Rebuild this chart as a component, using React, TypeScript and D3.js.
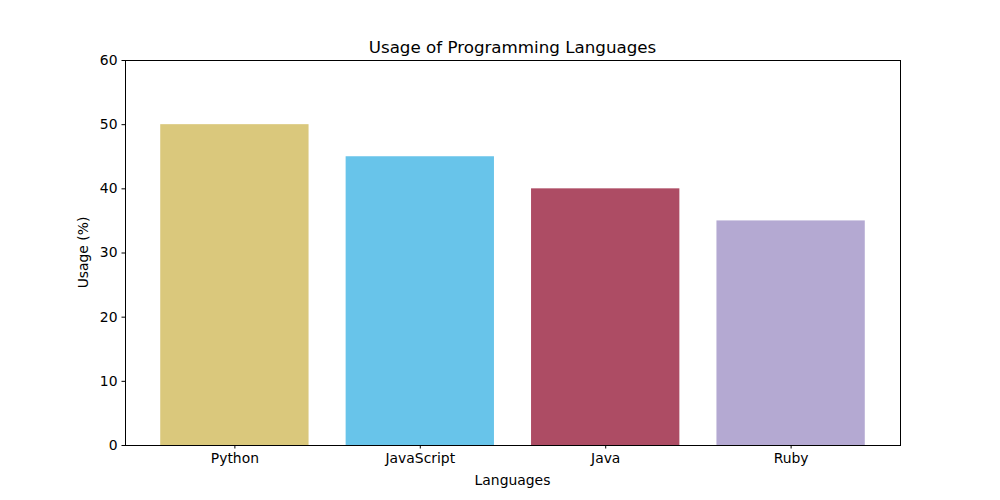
import { useEffect, useRef } from "react";
import * as d3 from "d3";

const languages = ["Python", "JavaScript", "Java", "Ruby"];
const usage = [50, 45, 40, 35];
const barColors = ["#dac87c", "#68c4ea", "#ad4c64", "#b4a9d2"];
const yTicks = [0, 10, 20, 30, 40, 50, 60];

function App() {
  const svgRef = useRef<SVGSVGElement>(null);
  const width = 1000;
  const height = 500;

  useEffect(() => {
    const svg = d3.select(svgRef.current);
    svg.selectAll("*").remove();

    const margin = { top: 60, right: 100, bottom: 55, left: 125 };
    const x0 = margin.left;
    const x1 = width - margin.right;
    const y0 = height - margin.bottom;
    const y1 = margin.top;

    // matplotlib-style x limits with 5% margin around the bars
    const barW = 0.8;
    const lo = -barW / 2;
    const hi = languages.length - 1 + barW / 2;
    const pad = (hi - lo) * 0.05;
    const x = d3.scaleLinear().domain([lo - pad, hi + pad]).range([x0, x1]);
    const y = d3.scaleLinear().domain([0, 60]).range([y0, y1]);

    const font = "DejaVu Sans, sans-serif";

    svg
      .append("g")
      .selectAll("rect")
      .data(usage)
      .join("rect")
      .attr("x", (_, i) => x(i - barW / 2))
      .attr("width", (_, i) => x(i + barW / 2) - x(i - barW / 2))
      .attr("y", (d) => y(d))
      .attr("height", (d) => y(0) - y(d))
      .attr("fill", (_, i) => barColors[i]);

    // x axis
    const xAxis = svg
      .append("g")
      .attr("transform", `translate(0,${y0})`)
      .call(
        d3
          .axisBottom(x)
          .tickValues(languages.map((_, i) => i))
          .tickFormat((d) => languages[d as number])
          .tickSize(3.5)
          .tickPadding(5)
      );
    xAxis.select(".domain").remove();
    xAxis.selectAll("text").style("font-family", font).style("font-size", "13.9px").attr("fill", "#000");
    xAxis.selectAll("line").attr("stroke", "#000");

    // y axis
    const yAxis = svg
      .append("g")
      .attr("transform", `translate(${x0},0)`)
      .call(d3.axisLeft(y).tickValues(yTicks).tickSize(3.5).tickPadding(4));
    yAxis.select(".domain").remove();
    yAxis.selectAll("text").style("font-family", font).style("font-size", "13.9px").attr("fill", "#000");
    yAxis.selectAll("line").attr("stroke", "#000");

    // frame
    svg
      .append("rect")
      .attr("x", x0 + 0.5)
      .attr("y", y1 + 0.5)
      .attr("width", x1 - x0)
      .attr("height", y0 - y1)
      .attr("fill", "none")
      .attr("stroke", "#000")
      .attr("stroke-width", 1);

    svg
      .append("text")
      .attr("x", (x0 + x1) / 2)
      .attr("y", y1 - 7)
      .attr("text-anchor", "middle")
      .style("font-family", font)
      .style("font-size", "16.7px")
      .text("Usage of Programming Languages");

    svg
      .append("text")
      .attr("x", (x0 + x1) / 2)
      .attr("y", y0 + 40)
      .attr("text-anchor", "middle")
      .style("font-family", font)
      .style("font-size", "13.9px")
      .text("Languages");

    svg
      .append("text")
      .attr("transform", `translate(${x0 - 37},${(y0 + y1) / 2}) rotate(-90)`)
      .attr("text-anchor", "middle")
      .style("font-family", font)
      .style("font-size", "13.9px")
      .text("Usage (%)");
  }, []);

  return (
    <svg
      ref={svgRef}
      width={width}
      height={height}
      style={{ position: "absolute", left: 0, top: 0, background: "#fff" }}
    />
  );
}

export default App;
